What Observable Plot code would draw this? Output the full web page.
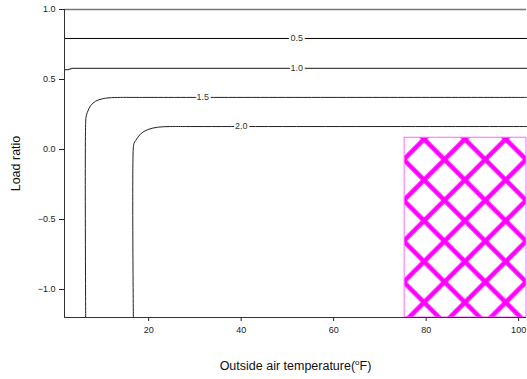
<!DOCTYPE html>
<html>
<head>
<meta charset="utf-8">
<script src="https://cdn.jsdelivr.net/npm/d3@7"></script>
<script src="https://cdn.jsdelivr.net/npm/@observablehq/plot@0.6"></script>
<style>
  html, body { margin: 0; padding: 0; background: #fff; }
  svg { display: block; }
</style>
</head>
<body>
<script>
// Axis ticks
const xTicks = [20, 40, 60, 80, 100];
const yTicks = [-1.0, -0.5, 0.0, 0.5, 1.0];

// Contour lines: outside air temperature (°F) vs load ratio
const level05T = [1.8, 101.7];
const level05L = [0.793, 0.793];
const level10T = [1.8, 2.6, 3.4, 101.7];
const level10L = [0.570, 0.571, 0.579, 0.579];
const level15T = [6.38, 6.38, 6.5, 6.75, 7.46, 8.54, 9.99, 11.42, 13.95, 17.0, 101.7];
const level15L = [-1.2, 0.195, 0.24, 0.266, 0.314, 0.345, 0.362, 0.369, 0.372, 0.372, 0.372];
const level20T = [16.69, 16.69, 16.85, 17.19, 18.27, 19.72, 21.88, 24.76, 28.0, 101.7];
const level20L = [-1.2, 0.016, 0.045, 0.064, 0.112, 0.141, 0.159, 0.164, 0.164, 0.164];

// Contour labels
const levelNames = ["0.5", "1.0", "1.5", "2.0"];
const labelT = [52.0, 52.0, 31.7, 40.0];
const labelL = [0.793, 0.579, 0.372, 0.164];

// Hatched zone
const zoneT = [75.35, 101.7];
const zoneL = [-1.2, 0.084];

const toPoints = (T, L) => T.map((t, i) => ({t, l: L[i]}));
const straight = [
  {pts: toPoints(level05T, level05L), stroke: "#000", width: 1},
  {pts: toPoints(level10T, level10L), stroke: "#444", width: 1.2}
];
const curved = [
  {pts: toPoints(level15T, level15L), stroke: "#222", width: 1},
  {pts: toPoints(level20T, level20L), stroke: "#222", width: 1}
];
const labels = levelNames.map((name, i) => ({name, t: labelT[i], l: labelL[i]}));
const zone = [{x1: zoneT[0], x2: zoneT[1], y1: zoneL[0], y2: zoneL[1]}];

const font = "'Liberation Sans', Arial, Helvetica, sans-serif";

const svg = Plot.plot({
  width: 527,
  height: 379,
  marginLeft: 64,
  marginRight: 1,
  marginTop: 9,
  marginBottom: 62,
  style: {fontFamily: font, fontSize: "9px", color: "#222", background: "#fff"},
  x: {domain: [1.8, 101.7], ticks: xTicks, tickSize: 4, tickPadding: 5, tickFormat: d3.format("d"), label: null},
  y: {domain: [-1.2, 1.0], ticks: yTicks, tickSize: 5, tickPadding: 4, tickFormat: d3.format(".1f"), label: null},
  marks: [
    Plot.rect(zone, {x1: "x1", x2: "x2", y1: "y1", y2: "y2", fill: "none", stroke: "#ff66ff", strokeWidth: 1}),
    Plot.ruleY([1.0], {stroke: "#777", strokeWidth: 1.3}),
    ...straight.map(c => Plot.line(c.pts, {x: "t", y: "l", stroke: c.stroke, strokeWidth: c.width, curve: "linear"})),
    ...curved.map(c => Plot.line(c.pts, {x: "t", y: "l", stroke: c.stroke, strokeWidth: c.width, curve: "catmull-rom"})),
    Plot.text(labels, {x: "t", y: "l", text: "name", fontSize: 9, fill: "#333", stroke: "#fff", strokeWidth: 4}),
    Plot.ruleX([1.8], {y1: -1.2, y2: 1.0, stroke: "#333"}),
    Plot.ruleY([-1.2], {stroke: "#333"}),
    Plot.text(["Load ratio"], {text: d => d, frameAnchor: "left", dx: -49, rotate: -90, textAnchor: "middle", fontSize: 12.5, fill: "#111"}),
    Plot.text(["Outside air temperature(F)"], {text: d => d, frameAnchor: "bottom", dy: 52, textAnchor: "middle", fontSize: 12.5, fill: "#111"})
  ]
});

// Diamond hatch used to fill the zone
const root = d3.select(svg);
const defs = root.insert("defs", ":first-child");
const s = 40.8 / Math.SQRT2;
const pat = defs.append("pattern")
  .attr("id", "hatch")
  .attr("patternUnits", "userSpaceOnUse")
  .attr("x", 8.8).attr("y", 14.9)
  .attr("width", s).attr("height", s)
  .attr("patternTransform", "rotate(45)");
pat.append("rect").attr("width", s).attr("height", s).attr("fill", "#fff");
pat.append("path")
  .attr("d", `M${s / 2},0V${s}M0,${s / 2}H${s}`)
  .attr("stroke", "#ff00ff").attr("stroke-width", 4.5).attr("fill", "none");
root.selectAll("g > rect").each(function() {
  this.setAttribute("fill", "url(#hatch)");
  this.parentNode.setAttribute("fill", "url(#hatch)");
});

// Superscript "o" in the temperature unit
root.selectAll("text")
  .filter(function() { return this.textContent === "Outside air temperature(F)"; })
  .each(function() {
    const t = d3.select(this);
    t.text(null);
    t.append("tspan").text("Outside air temperature(");
    t.append("tspan").attr("font-size", "8px").attr("dy", -4.5).text("o");
    t.append("tspan").attr("dy", 4.5).text("F)");
  });

document.body.appendChild(svg);
</script>
</body>
</html>
